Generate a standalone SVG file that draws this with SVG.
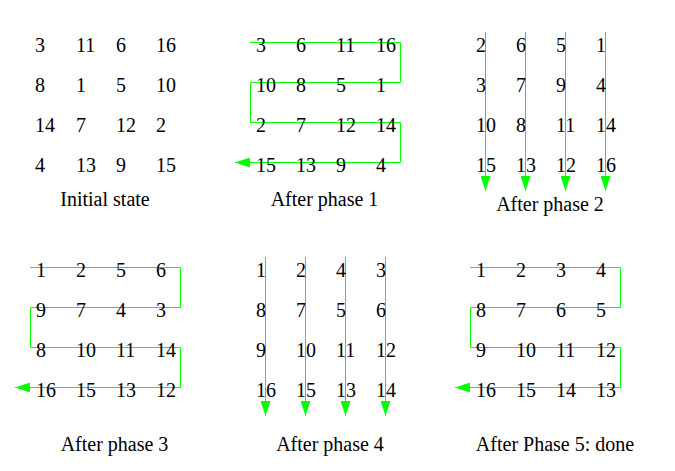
<svg xmlns="http://www.w3.org/2000/svg" width="675" height="471" viewBox="0 0 675 471">
<style>
text{font-family:"Liberation Serif","Times New Roman",serif;font-size:20px;fill:#000}
.cap{text-anchor:middle}
.c{fill:none;stroke:#00ff00;stroke-width:1}
</style>
<defs>
<marker id="ah" markerUnits="userSpaceOnUse" markerWidth="16" markerHeight="10" refX="15" refY="5" orient="auto">
<path d="M0,0 L15,5 L0,10 Z" fill="#00ff00"/>
</marker>
</defs>
<rect width="675" height="471" fill="#fff"/>
<g id="connectors">
<polyline class="c" marker-end="url(#ah)" points="250,42.5 400.5,42.5 400.5,82.5 250.5,82.5 250.5,122.5 400.5,122.5 400.5,162.5 235,162.5"/>
<line class="c" marker-end="url(#ah)" x1="485.5" y1="32" x2="485.5" y2="191"/>
<line class="c" marker-end="url(#ah)" x1="525.5" y1="32" x2="525.5" y2="191"/>
<line class="c" marker-end="url(#ah)" x1="565.5" y1="32" x2="565.5" y2="191"/>
<line class="c" marker-end="url(#ah)" x1="605.5" y1="32" x2="605.5" y2="191"/>
<polyline class="c" marker-end="url(#ah)" points="30,267.5 180.5,267.5 180.5,307.5 30.5,307.5 30.5,347.5 180.5,347.5 180.5,387.5 15,387.5"/>
<line class="c" marker-end="url(#ah)" x1="265.5" y1="257" x2="265.5" y2="416"/>
<line class="c" marker-end="url(#ah)" x1="305.5" y1="257" x2="305.5" y2="416"/>
<line class="c" marker-end="url(#ah)" x1="345.5" y1="257" x2="345.5" y2="416"/>
<line class="c" marker-end="url(#ah)" x1="385.5" y1="257" x2="385.5" y2="416"/>
<polyline class="c" marker-end="url(#ah)" points="470,267.5 620.5,267.5 620.5,307.5 470.5,307.5 470.5,347.5 620.5,347.5 620.5,387.5 455,387.5"/>
</g>
<g id="initial">
<text x="35" y="52">3</text><text x="76" y="52">11</text><text x="116" y="52">6</text><text x="156" y="52">16</text>
<text x="35" y="92">8</text><text x="76" y="92">1</text><text x="116" y="92">5</text><text x="156" y="92">10</text>
<text x="35" y="132">14</text><text x="76" y="132">7</text><text x="116" y="132">12</text><text x="156" y="132">2</text>
<text x="35" y="172">4</text><text x="76" y="172">13</text><text x="116" y="172">9</text><text x="156" y="172">15</text>
<text class="cap" x="105" y="206">Initial state</text>
</g>
<g id="phase1">
<text x="256" y="52">3</text><text x="296" y="52">6</text><text x="336" y="52">11</text><text x="376" y="52">16</text>
<text x="256" y="92">10</text><text x="296" y="92">8</text><text x="336" y="92">5</text><text x="376" y="92">1</text>
<text x="256" y="132">2</text><text x="296" y="132">7</text><text x="336" y="132">12</text><text x="376" y="132">14</text>
<text x="256" y="172">15</text><text x="296" y="172">13</text><text x="336" y="172">9</text><text x="376" y="172">4</text>
<text class="cap" x="324.5" y="206">After phase 1</text>
</g>
<g id="phase2">
<text x="476" y="52">2</text><text x="516" y="52">6</text><text x="556" y="52">5</text><text x="596" y="52">1</text>
<text x="476" y="92">3</text><text x="516" y="92">7</text><text x="556" y="92">9</text><text x="596" y="92">4</text>
<text x="476" y="132">10</text><text x="516" y="132">8</text><text x="556" y="132">11</text><text x="596" y="132">14</text>
<text x="476" y="172">15</text><text x="516" y="172">13</text><text x="556" y="172">12</text><text x="596" y="172">16</text>
<text class="cap" x="550" y="211">After phase 2</text>
</g>
<g id="phase3">
<text x="36" y="277">1</text><text x="76" y="277">2</text><text x="116" y="277">5</text><text x="156" y="277">6</text>
<text x="36" y="317">9</text><text x="76" y="317">7</text><text x="116" y="317">4</text><text x="156" y="317">3</text>
<text x="36" y="357">8</text><text x="76" y="357">10</text><text x="116" y="357">11</text><text x="156" y="357">14</text>
<text x="36" y="397">16</text><text x="76" y="397">15</text><text x="116" y="397">13</text><text x="156" y="397">12</text>
<text class="cap" x="114.5" y="451">After phase 3</text>
</g>
<g id="phase4">
<text x="256" y="277">1</text><text x="296" y="277">2</text><text x="336" y="277">4</text><text x="376" y="277">3</text>
<text x="256" y="317">8</text><text x="296" y="317">7</text><text x="336" y="317">5</text><text x="376" y="317">6</text>
<text x="256" y="357">9</text><text x="296" y="357">10</text><text x="336" y="357">11</text><text x="376" y="357">12</text>
<text x="256" y="397">16</text><text x="296" y="397">15</text><text x="336" y="397">13</text><text x="376" y="397">14</text>
<text class="cap" x="330" y="451">After phase 4</text>
</g>
<g id="phase5">
<text x="476" y="277">1</text><text x="516" y="277">2</text><text x="556" y="277">3</text><text x="596" y="277">4</text>
<text x="476" y="317">8</text><text x="516" y="317">7</text><text x="556" y="317">6</text><text x="596" y="317">5</text>
<text x="476" y="357">9</text><text x="516" y="357">10</text><text x="556" y="357">11</text><text x="596" y="357">12</text>
<text x="476" y="397">16</text><text x="516" y="397">15</text><text x="556" y="397">14</text><text x="596" y="397">13</text>
<text class="cap" x="555" y="451">After Phase 5: done</text>
</g>
</svg>
